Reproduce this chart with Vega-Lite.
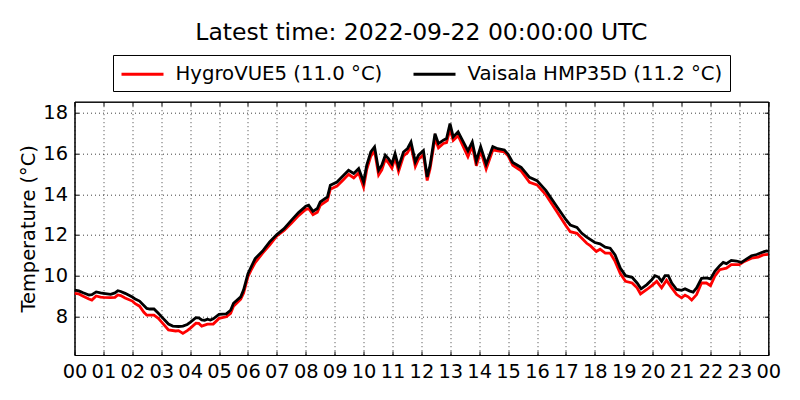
{
  "$schema": "https://vega.github.io/schema/vega-lite/v6.json",
  "width": 693.8,
  "height": 253.3,
  "autosize": {"type": "none"},
  "padding": {"left": 74.5, "top": 101.7, "right": 31.7, "bottom": 45},
  "background": "white",
  "title": {"text": "Latest time: 2022-09-22 00:00:00 UTC", "font": "DejaVu Sans", "fontSize": 23.5, "fontWeight": "normal", "color": "black", "anchor": "middle", "frame": "group", "baseline": "alphabetic", "offset": 13, "dy": 22},
  "datasets": {
    "hygrovue": [
      {"hour":0,"temp":9.13},{"hour":0.15,"temp":9.1},{"hour":0.3,"temp":8.99},{"hour":0.5,"temp":8.85},{"hour":0.6,"temp":8.8},{"hour":0.75,"temp":9.0},{"hour":0.9,"temp":8.95},{"hour":1.0,"temp":8.93},{"hour":1.25,"temp":8.92},{"hour":1.4,"temp":8.93},{"hour":1.5,"temp":9.05},{"hour":1.6,"temp":9.02},{"hour":1.75,"temp":8.9},{"hour":2.0,"temp":8.75},{"hour":2.1,"temp":8.62},{"hour":2.25,"temp":8.5},{"hour":2.4,"temp":8.2},{"hour":2.5,"temp":8.06},{"hour":2.75,"temp":8.06},{"hour":2.9,"temp":7.9},{"hour":3.0,"temp":7.74},{"hour":3.25,"temp":7.33},{"hour":3.5,"temp":7.28},{"hour":3.6,"temp":7.3},{"hour":3.75,"temp":7.16},{"hour":3.9,"temp":7.3},{"hour":4.0,"temp":7.41},{"hour":4.2,"temp":7.66},{"hour":4.3,"temp":7.65},{"hour":4.4,"temp":7.52},{"hour":4.6,"temp":7.62},{"hour":4.8,"temp":7.62},{"hour":5.0,"temp":7.9},{"hour":5.25,"temp":7.98},{"hour":5.4,"temp":8.15},{"hour":5.5,"temp":8.5},{"hour":5.75,"temp":8.84},{"hour":5.85,"temp":9.15},{"hour":6.0,"temp":9.95},{"hour":6.1,"temp":10.25},{"hour":6.25,"temp":10.64},{"hour":6.5,"temp":11.1},{"hour":6.75,"temp":11.5},{"hour":7.0,"temp":11.95},{"hour":7.25,"temp":12.22},{"hour":7.5,"temp":12.57},{"hour":7.75,"temp":12.95},{"hour":8.0,"temp":13.26},{"hour":8.1,"temp":13.3},{"hour":8.25,"temp":13.0},{"hour":8.4,"temp":13.12},{"hour":8.5,"temp":13.45},{"hour":8.75,"temp":13.7},{"hour":8.85,"temp":14.25},{"hour":9.08,"temp":14.4},{"hour":9.31,"temp":14.73},{"hour":9.48,"temp":14.98},{"hour":9.66,"temp":14.8},{"hour":9.83,"temp":15.05},{"hour":10.0,"temp":14.35},{"hour":10.11,"temp":15.22},{"hour":10.25,"temp":15.88},{"hour":10.38,"temp":16.12},{"hour":10.52,"temp":14.95},{"hour":10.63,"temp":15.2},{"hour":10.75,"temp":15.72},{"hour":10.86,"temp":15.55},{"hour":10.98,"temp":15.28},{"hour":11.09,"temp":15.8},{"hour":11.21,"temp":15.12},{"hour":11.38,"temp":15.88},{"hour":11.52,"temp":16.05},{"hour":11.64,"temp":16.37},{"hour":11.79,"temp":15.37},{"hour":11.9,"temp":15.72},{"hour":12.07,"temp":15.95},{"hour":12.2,"temp":14.68},{"hour":12.3,"temp":15.25},{"hour":12.47,"temp":16.75},{"hour":12.59,"temp":16.28},{"hour":12.76,"temp":16.5},{"hour":12.87,"temp":16.54},{"hour":12.99,"temp":17.2},{"hour":13.1,"temp":16.65},{"hour":13.27,"temp":16.88},{"hour":13.44,"temp":16.37},{"hour":13.61,"temp":15.85},{"hour":13.76,"temp":16.37},{"hour":13.9,"temp":15.4},{"hour":14.05,"temp":16.13},{"hour":14.24,"temp":15.24},{"hour":14.47,"temp":16.18},{"hour":14.64,"temp":16.13},{"hour":14.87,"temp":16.08},{"hour":15.0,"temp":15.89},{"hour":15.16,"temp":15.43},{"hour":15.45,"temp":15.15},{"hour":15.74,"temp":14.59},{"hour":16.0,"temp":14.46},{"hour":16.31,"temp":13.97},{"hour":16.66,"temp":13.2},{"hour":17.0,"temp":12.45},{"hour":17.15,"temp":12.16},{"hour":17.38,"temp":12.08},{"hour":17.55,"temp":11.84},{"hour":17.72,"temp":11.59},{"hour":17.85,"temp":11.46},{"hour":18.05,"temp":11.19},{"hour":18.18,"temp":11.3},{"hour":18.36,"temp":11.11},{"hour":18.53,"temp":11.11},{"hour":18.7,"temp":10.7},{"hour":18.88,"temp":10.1},{"hour":19.06,"temp":9.72},{"hour":19.29,"temp":9.64},{"hour":19.46,"temp":9.4},{"hour":19.58,"temp":9.1},{"hour":19.8,"temp":9.32},{"hour":19.97,"temp":9.51},{"hour":20.14,"temp":9.72},{"hour":20.31,"temp":9.4},{"hour":20.48,"temp":9.77},{"hour":20.66,"temp":9.4},{"hour":20.83,"temp":9.07},{"hour":21.0,"temp":8.91},{"hour":21.12,"temp":9.04},{"hour":21.23,"temp":8.96},{"hour":21.35,"temp":8.8},{"hour":21.52,"temp":9.07},{"hour":21.69,"temp":9.64},{"hour":21.86,"temp":9.64},{"hour":22.0,"temp":9.51},{"hour":22.15,"temp":9.97},{"hour":22.32,"temp":10.29},{"hour":22.55,"temp":10.37},{"hour":22.72,"temp":10.54},{"hour":23.0,"temp":10.54},{"hour":23.17,"temp":10.7},{"hour":23.42,"temp":10.86},{"hour":23.65,"temp":10.91},{"hour":23.82,"temp":11.02},{"hour":24.0,"temp":11.05}
    ],
    "vaisala": [
      {"hour":0,"temp":9.29},{"hour":0.15,"temp":9.25},{"hour":0.3,"temp":9.16},{"hour":0.5,"temp":9.05},{"hour":0.6,"temp":9.07},{"hour":0.75,"temp":9.2},{"hour":0.9,"temp":9.15},{"hour":1.0,"temp":9.13},{"hour":1.25,"temp":9.08},{"hour":1.4,"temp":9.15},{"hour":1.5,"temp":9.26},{"hour":1.6,"temp":9.22},{"hour":1.75,"temp":9.13},{"hour":2.0,"temp":8.95},{"hour":2.1,"temp":8.85},{"hour":2.25,"temp":8.75},{"hour":2.5,"temp":8.39},{"hour":2.6,"temp":8.36},{"hour":2.75,"temp":8.36},{"hour":2.9,"temp":8.15},{"hour":3.0,"temp":8.0},{"hour":3.25,"temp":7.62},{"hour":3.4,"temp":7.52},{"hour":3.6,"temp":7.5},{"hour":3.75,"temp":7.52},{"hour":3.9,"temp":7.6},{"hour":4.0,"temp":7.7},{"hour":4.2,"temp":7.93},{"hour":4.3,"temp":7.92},{"hour":4.4,"temp":7.82},{"hour":4.5,"temp":7.8},{"hour":4.6,"temp":7.86},{"hour":4.7,"temp":7.82},{"hour":4.8,"temp":7.88},{"hour":5.0,"temp":8.1},{"hour":5.25,"temp":8.12},{"hour":5.4,"temp":8.3},{"hour":5.5,"temp":8.64},{"hour":5.75,"temp":8.96},{"hour":5.85,"temp":9.3},{"hour":6.0,"temp":10.1},{"hour":6.1,"temp":10.4},{"hour":6.25,"temp":10.84},{"hour":6.5,"temp":11.2},{"hour":6.75,"temp":11.66},{"hour":7.0,"temp":12.02},{"hour":7.25,"temp":12.31},{"hour":7.5,"temp":12.72},{"hour":7.75,"temp":13.1},{"hour":8.0,"temp":13.41},{"hour":8.1,"temp":13.46},{"hour":8.25,"temp":13.16},{"hour":8.4,"temp":13.3},{"hour":8.5,"temp":13.62},{"hour":8.75,"temp":13.87},{"hour":8.85,"temp":14.44},{"hour":9.08,"temp":14.6},{"hour":9.31,"temp":14.93},{"hour":9.48,"temp":15.18},{"hour":9.66,"temp":15.02},{"hour":9.83,"temp":15.26},{"hour":10.0,"temp":14.6},{"hour":10.11,"temp":15.43},{"hour":10.25,"temp":16.08},{"hour":10.38,"temp":16.33},{"hour":10.52,"temp":15.18},{"hour":10.63,"temp":15.43},{"hour":10.75,"temp":15.92},{"hour":10.86,"temp":15.75},{"hour":10.98,"temp":15.5},{"hour":11.09,"temp":16.0},{"hour":11.21,"temp":15.34},{"hour":11.38,"temp":16.08},{"hour":11.52,"temp":16.25},{"hour":11.64,"temp":16.57},{"hour":11.79,"temp":15.59},{"hour":11.9,"temp":15.92},{"hour":12.07,"temp":16.15},{"hour":12.2,"temp":14.85},{"hour":12.3,"temp":15.43},{"hour":12.47,"temp":16.98},{"hour":12.59,"temp":16.49},{"hour":12.76,"temp":16.66},{"hour":12.87,"temp":16.74},{"hour":12.99,"temp":17.48},{"hour":13.1,"temp":16.82},{"hour":13.27,"temp":17.07},{"hour":13.44,"temp":16.6},{"hour":13.61,"temp":16.13},{"hour":13.76,"temp":16.57},{"hour":13.9,"temp":15.64},{"hour":14.05,"temp":16.34},{"hour":14.24,"temp":15.48},{"hour":14.47,"temp":16.34},{"hour":14.64,"temp":16.24},{"hour":14.87,"temp":16.18},{"hour":15.0,"temp":15.97},{"hour":15.16,"temp":15.56},{"hour":15.45,"temp":15.32},{"hour":15.74,"temp":14.83},{"hour":16.0,"temp":14.67},{"hour":16.31,"temp":14.18},{"hour":16.66,"temp":13.45},{"hour":17.0,"temp":12.75},{"hour":17.15,"temp":12.49},{"hour":17.38,"temp":12.37},{"hour":17.55,"temp":12.08},{"hour":17.72,"temp":11.89},{"hour":18.0,"temp":11.63},{"hour":18.18,"temp":11.56},{"hour":18.36,"temp":11.4},{"hour":18.53,"temp":11.35},{"hour":18.7,"temp":11.02},{"hour":18.88,"temp":10.37},{"hour":19.06,"temp":10.0},{"hour":19.29,"temp":9.92},{"hour":19.46,"temp":9.64},{"hour":19.6,"temp":9.35},{"hour":19.8,"temp":9.56},{"hour":19.97,"temp":9.8},{"hour":20.08,"temp":10.0},{"hour":20.2,"temp":9.93},{"hour":20.31,"temp":9.72},{"hour":20.43,"temp":10.0},{"hour":20.54,"temp":10.0},{"hour":20.66,"temp":9.64},{"hour":20.83,"temp":9.32},{"hour":21.0,"temp":9.28},{"hour":21.12,"temp":9.35},{"hour":21.29,"temp":9.24},{"hour":21.4,"temp":9.19},{"hour":21.52,"temp":9.4},{"hour":21.69,"temp":9.87},{"hour":21.86,"temp":9.89},{"hour":22.0,"temp":9.84},{"hour":22.15,"temp":10.21},{"hour":22.32,"temp":10.49},{"hour":22.44,"temp":10.65},{"hour":22.55,"temp":10.59},{"hour":22.72,"temp":10.75},{"hour":22.9,"temp":10.72},{"hour":23.07,"temp":10.65},{"hour":23.24,"temp":10.81},{"hour":23.42,"temp":10.98},{"hour":23.6,"temp":11.04},{"hour":23.77,"temp":11.14},{"hour":23.94,"temp":11.22},{"hour":24.0,"temp":11.2}
    ]
  },
  "layer": [
    {
      "data": {"name": "hygrovue"},
      "mark": {"type": "line", "strokeWidth": 2.8, "clip": true},
      "encoding": {
        "x": {"field": "hour", "type": "quantitative",
              "scale": {"domain": [0, 24], "nice": false, "zero": false},
              "axis": {"title": null, "values": [0,1,2,3,4,5,6,7,8,9,10,11,12,13,14,15,16,17,18,19,20,21,22,23,24],
                       "labelExpr": "(datum.value % 24 < 10 ? '0' : '') + (datum.value % 24)",
                       "labelFlush": false, "labelOverlap": false, "labelPadding": 11, "grid": true}},
        "y": {"field": "temp", "type": "quantitative",
              "scale": {"domain": [6.1, 18.55], "nice": false, "zero": false},
              "axis": {"title": "Temperature (°C)", "values": [8,10,12,14,16,18], "labelPadding": 11, "titlePadding": 4, "grid": true}},
        "color": {"datum": "HygroVUE5 (11.0 °C)", "type": "nominal",
                  "scale": {"domain": ["HygroVUE5 (11.0 °C)", "Vaisala HMP35D (11.2 °C)"], "range": ["#ff0000", "#000000"]}}
      }
    },
    {
      "data": {"name": "vaisala"},
      "mark": {"type": "line", "strokeWidth": 2.8, "clip": true},
      "encoding": {
        "x": {"field": "hour", "type": "quantitative",
              "axis": {"orient": "top", "title": null, "labels": false, "grid": false, "values": [0,1,2,3,4,5,6,7,8,9,10,11,12,13,14,15,16,17,18,19,20,21,22,23,24]}},
        "y": {"field": "temp", "type": "quantitative",
              "axis": {"orient": "right", "title": null, "labels": false, "grid": false, "values": [8,10,12,14,16,18]}},
        "color": {"datum": "Vaisala HMP35D (11.2 °C)", "type": "nominal"}
      }
    }
  ],
  "resolve": {"axis": {"x": "independent", "y": "independent"}},
  "config": {
    "font": "DejaVu Sans",
    "view": {"stroke": "black", "strokeWidth": 1},
    "axis": {
      "labelFont": "DejaVu Sans", "labelFontSize": 19.4, "labelColor": "black",
      "titleFont": "DejaVu Sans", "titleFontSize": 19.4, "titleFontWeight": "normal", "titleColor": "black",
      "domainColor": "black", "domainWidth": 1,
      "tickColor": "black", "tickSize": -4, "tickWidth": 1,
      "gridColor": "black", "gridDash": [1, 3], "gridOpacity": 0.75, "gridWidth": 1
    },
    "legend": {
      "orient": "none", "legendX": 38.5, "legendY": -46.7, "direction": "horizontal",
      "title": null, "labelFont": "DejaVu Sans", "labelFontSize": 19.7, "labelColor": "black",
      "symbolType": "M-2,0H2", "symbolSize": 441, "symbolStrokeWidth": 3, "symbolOffset": 10.5,
      "labelOffset": 21, "columnPadding": 24, "padding": 7, "labelLimit": 0,
      "strokeColor": "black", "fillColor": "white", "cornerRadius": 0
    }
  }
}
